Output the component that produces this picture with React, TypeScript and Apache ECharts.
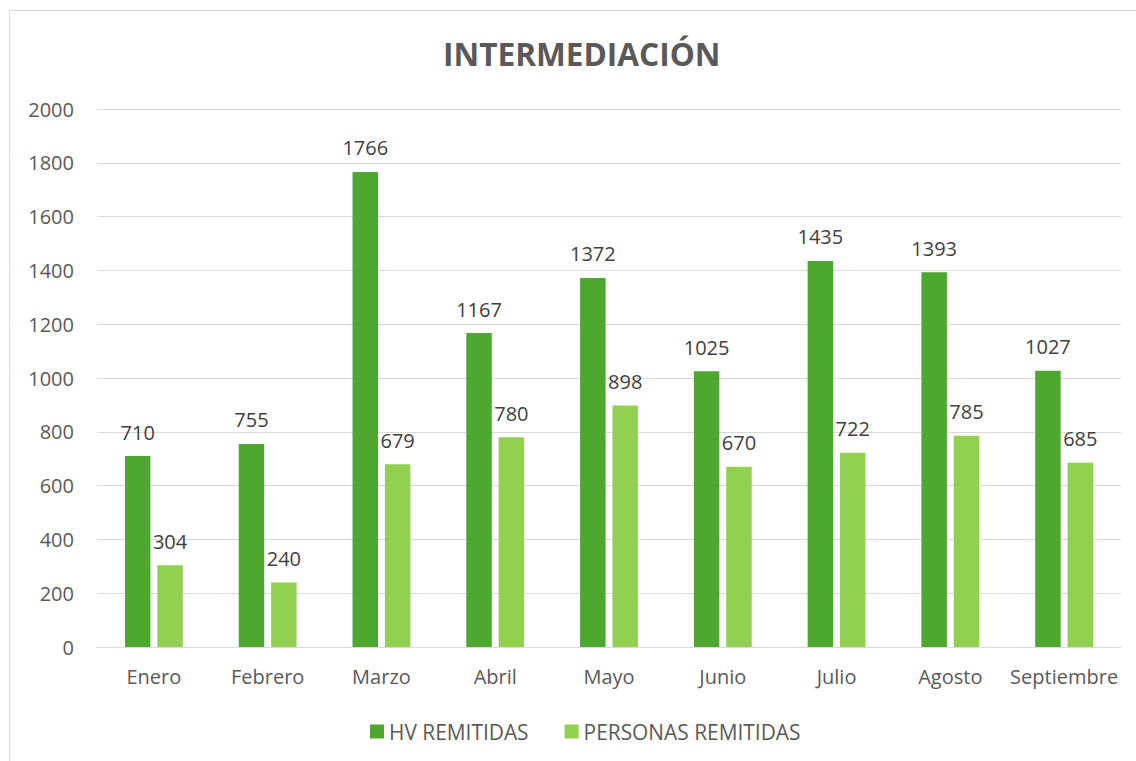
import React, { useEffect, useRef } from "react";
import * as echarts from "echarts";

const categories = ["Enero", "Febrero", "Marzo", "Abril", "Mayo", "Junio", "Julio", "Agosto", "Septiembre"];
const hvRemitidas = [710, 755, 1766, 1167, 1372, 1025, 1435, 1393, 1027];
const personasRemitidas = [304, 240, 679, 780, 898, 670, 722, 785, 685];
const seriesNames = ["HV REMITIDAS", "PERSONAS REMITIDAS"];
const chartTitle = "INTERMEDIACIÓN";

const FONT = "'Open Sans', sans-serif";

export default function App() {
  const ref = useRef<HTMLDivElement>(null);
  useEffect(() => {
    if (!ref.current) return;
    const chart = echarts.init(ref.current, undefined, { renderer: "svg" });
    const label = {
      show: true,
      position: "top",
      distance: 14,
      color: "#404040",
      fontSize: 20,
      fontFamily: FONT,
    };
    chart.setOption({
      animation: false,
      backgroundColor: "#ffffff",
      textStyle: { fontFamily: FONT },
      graphic: [
        {
          type: "rect",
          shape: { x: 9.5, y: 10.5, width: 1200, height: 800 },
          style: { fill: "none", stroke: "#d9d9d9", lineWidth: 1 },
          silent: true,
          z: -10,
        },
      ],
      title: {
        text: chartTitle,
        left: 438,
        top: 32,
        textStyle: { fontFamily: FONT, fontSize: 31.6, fontWeight: "bold", color: "#595959" },
      },
      legend: {
        bottom: 14,
        left: 365,
        itemWidth: 14,
        itemHeight: 14,
        itemGap: 36,
        icon: "rect",
        textStyle: { fontFamily: FONT, fontSize: 20.9, color: "#595959" },
        data: seriesNames,
      },
      grid: { left: 97, right: 15, top: 109, bottom: 114, containLabel: false },
      xAxis: {
        type: "category",
        data: categories,
        axisLine: { show: true, lineStyle: { color: "#d9d9d9", width: 1 } },
        axisTick: { show: false },
        axisLabel: { fontFamily: FONT, fontSize: 20, color: "#595959", margin: 19, interval: 0 },
      },
      yAxis: {
        type: "value",
        min: 0,
        max: 2000,
        interval: 200,
        axisLine: { show: false },
        axisTick: { show: false },
        splitLine: { lineStyle: { color: "#d9d9d9", width: 1 } },
        axisLabel: {
          fontFamily: FONT,
          fontSize: 20,
          color: "#595959",
          margin: 23,
          formatter: (v: number) => String(v),
        },
      },
      series: [
        {
          name: seriesNames[0],
          type: "bar",
          data: hvRemitidas,
          barWidth: "22.4%",
          barGap: "27%",
          itemStyle: { color: "#4EA72E" },
          label,
        },
        {
          name: seriesNames[1],
          type: "bar",
          data: personasRemitidas,
          barWidth: "22.4%",
          barGap: "27%",
          itemStyle: { color: "#92D050" },
          label,
        },
      ],
    });
    return () => chart.dispose();
  }, []);
  return (
    <div
      ref={ref}
      style={{ position: "fixed", left: 0, top: 0, width: 1136, height: 761 }}
    />
  );
}
